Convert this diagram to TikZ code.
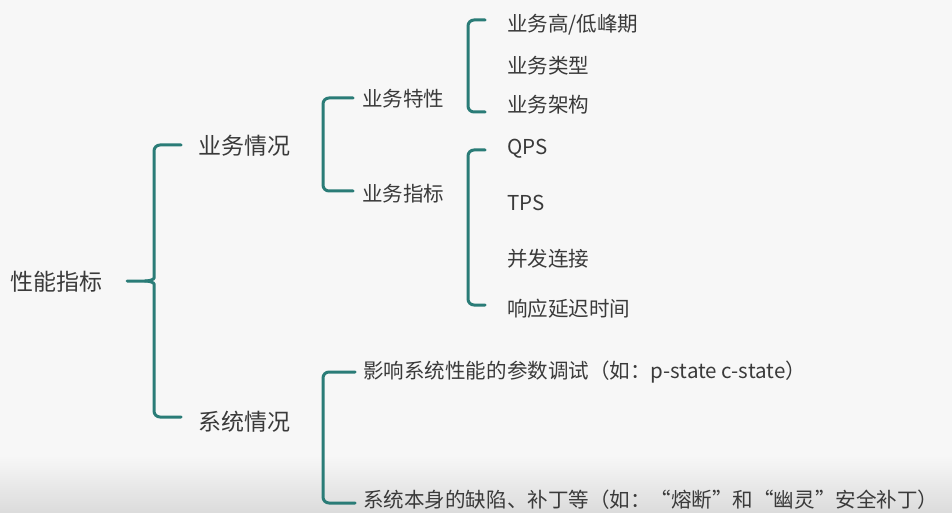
\documentclass[tikz,border=0pt]{standalone}
\usepackage{fontspec}
\newfontfamily\cjk{Noto Sans CJK SC}
\definecolor{teal1}{HTML}{2A7C77}
\definecolor{txt}{HTML}{3A3A3A}
\begin{document}
\begin{tikzpicture}[x=0.75pt,y=-0.75pt,
  lbl/.style={anchor=west,inner sep=0pt,yshift=-2.6pt,text=txt,font=\cjk\fontsize{15.4}{18}\selectfont,text height=0.82em,text depth=0.14em},
  big/.style={lbl,font=\cjk\fontsize{17.25}{20}\selectfont},
  brk/.style={draw=teal1,line width=2.25pt,rounded corners=4.5pt,line cap=round}]
\useasboundingbox (0,0) rectangle (952,513);
\fill[white!97!black] (0,0) rectangle (952,513);
\shade[top color=white!97!black,bottom color=white!86!black] (0,455) rectangle (952,513);
% texts
\node[big] (root) at (10,282) {性能指标};
\node[big] (biz) at (198,147) {业务情况};
\node[big] (sys) at (198,422) {系统情况};
\node[lbl] (feat) at (362,99) {业务特性};
\node[lbl] (metr) at (362,194) {业务指标};
\node[lbl] (f1) at (507,24) {业务高/低峰期};
\node[lbl] (f2) at (507,66) {业务类型};
\node[lbl] (f3) at (507,105) {业务架构};
\node[lbl] (m1) at (507,147) {QPS};
\node[lbl] (m2) at (507,203) {TPS};
\node[lbl] (m3) at (507,258) {并发连接};
\node[lbl] (m4) at (507,308) {响应延迟时间};
\node[lbl] (s1) at (363,370) {影响系统性能的参数调试（如：p-state c-state）};
\node[lbl] (s2) at (363,499) {系统本身的缺陷、补丁等（如：“熔断”和“幽灵”安全补丁）};
% bracket end points
\coordinate (r0) at (127,281);
\coordinate (rt) at (181,145);
\coordinate (rb) at (181,417);
\coordinate (bt) at (353,98);
\coordinate (bb) at (353,191);
\coordinate (ft) at (485,20);
\coordinate (fb) at (485,112);
\coordinate (mt) at (485,150);
\coordinate (mb) at (485,305);
\coordinate (st) at (355,372);
\coordinate (sb) at (355,503);
% big curly brace: root -> biz / sys
\draw[brk] (rt) -- (154,145) -- (154,272) [sharp corners] .. controls (154,279) and (151,281) .. (145,281) -- (r0);
\draw[brk] (rb) -- (154,417) -- (154,290) [sharp corners] .. controls (154,283) and (151,281) .. (145,281);
% brackets
\draw[brk] (bt) -| (323,144) |- (bb);
\draw[brk] (ft) -| (468,66) |- (fb);
\draw[brk] (mt) -| (468,228) |- (mb);
\draw[brk] (st) -| (323,438) |- (sb);
\end{tikzpicture}
\end{document}
